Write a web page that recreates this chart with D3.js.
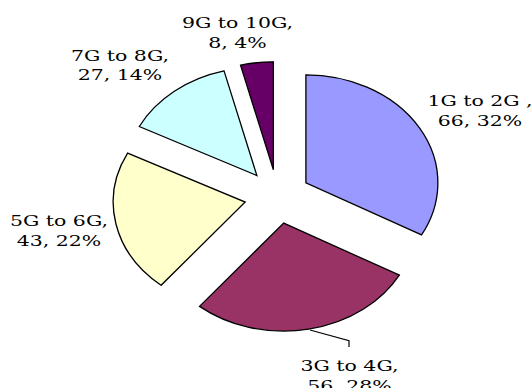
<!DOCTYPE html>
<html><head><meta charset="utf-8">
<script src="https://cdn.jsdelivr.net/npm/d3@7"></script>
<style>body{margin:0;background:#fff}svg{display:block}</style>
</head><body>
<svg id="c" width="532" height="388"></svg>
<script>
const categories = ["1G to 2G ", "3G to 4G", "5G to 6G", "7G to 8G", "9G to 10G"];
const values = [66, 56, 43, 27, 8];
const percentLabels = ["32%", "28%", "22%", "14%", "4%"];
const colors = ["#9999FF", "#993366", "#FFFFCC", "#CCFFFF", "#660066"];

// layout (not data)
const cx = 277.5, cy = 196.6, R = 108, explode = 27, sx = 1.222;
const labelPos = [[480,105.7],[349.5,370.7],[59,225.7],[120,60.5],[237.5,28.3]];
const lineGap = 20;

const svg = d3.select("#c");
const pie = d3.pie().sort(null).value(d => d)(values);
const arc = d3.arc().innerRadius(0).outerRadius(R);

const g = svg.append("g").attr("transform", `translate(${cx},${cy}) scale(${sx},1)`);
g.selectAll("path").data(pie).join("path")
  .attr("d", arc)
  .attr("transform", d => {
    const m = (d.startAngle + d.endAngle) / 2;
    return `translate(${explode*Math.sin(m)},${-explode*Math.cos(m)})`;
  })
  .attr("fill", (d,i) => colors[i])
  .attr("stroke", "#000")
  .attr("stroke-width", 1.3)
  .attr("stroke-linejoin", "miter")
  .attr("vector-effect", "non-scaling-stroke");

// leader line for 3G to 4G
svg.append("path")
  .attr("d", `M310,330 L349,340.7 L349,347`)
  .attr("fill","none").attr("stroke","#000").attr("stroke-width",1.2);

const lab = svg.selectAll("g.lab").data(categories).join("g").attr("class","lab")
  .attr("transform", (d,i) => `translate(${labelPos[i][0]},${labelPos[i][1]}) scale(1.32,1)`);
lab.append("text").attr("text-anchor","middle")
  .attr("font-family","DejaVu Serif").attr("font-size",15.5).attr("fill","#000")
  .text(d => d + ",");
lab.append("text").attr("text-anchor","middle").attr("y",lineGap)
  .attr("font-family","DejaVu Serif").attr("font-size",15.5).attr("fill","#000")
  .text((d,i) => values[i] + ", " + percentLabels[i]);
</script>
</body></html>
